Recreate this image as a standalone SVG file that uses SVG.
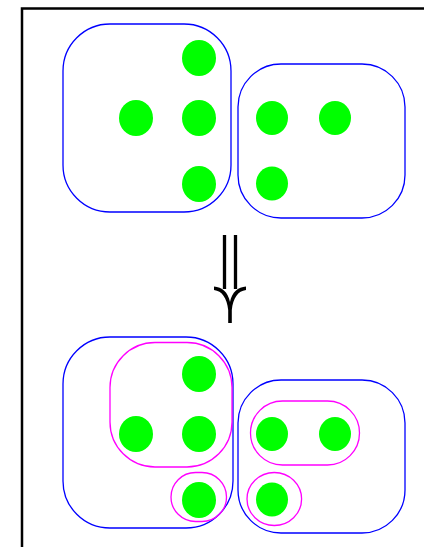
<svg xmlns="http://www.w3.org/2000/svg" width="424" height="547" viewBox="0 0 424 547">
<style>
.blue{fill:none;stroke:#0000ff;stroke-width:1.3}
.mag{fill:none;stroke:#ff00ff;stroke-width:1.3}
.dot{fill:#00ff00;stroke:none}
</style>
<rect width="424" height="547" fill="#fff"/>
<rect id="frame" x="22" y="8.5" width="420" height="560" fill="none" stroke="#000" stroke-width="2.5"/>
<g id="top">
<g id="topLeftGroup"><rect class="blue" x="63" y="24" width="168" height="188" rx="47" ry="47"/></g>
<g id="topRightGroup"><rect class="blue" x="238" y="64" width="167" height="154" rx="43" ry="43"/></g>
<g id="tdot1"><ellipse class="dot" cx="199" cy="58" rx="17" ry="18"/></g>
<g id="tdot2"><ellipse class="dot" cx="136" cy="118" rx="17" ry="18"/></g>
<g id="tdot3"><ellipse class="dot" cx="199" cy="118" rx="17" ry="18"/></g>
<g id="tdot4"><ellipse class="dot" cx="199" cy="184" rx="17" ry="18"/></g>
<g id="tdot5"><ellipse class="dot" cx="272" cy="118" rx="16" ry="17"/></g>
<g id="tdot6"><ellipse class="dot" cx="335" cy="118" rx="16" ry="17"/></g>
<g id="tdot7"><ellipse class="dot" cx="272" cy="183.5" rx="16" ry="17"/></g>
</g>
<g id="connectors">
<path d="M224.5 235 V289 M235.5 235 V289" stroke="#000" stroke-width="3.3" fill="none"/>
<path d="M214 286.5 C222 287 228 292 230 302 C232 292 238 287 246 286.5 L246 290 C238 291 233 298 231.8 310 L231.8 323 L228.2 323 L228.2 310 C227 298 222 291 214 290 Z" fill="#000"/>
</g>
<g id="bottom">
<g id="botLeftGroup"><rect class="blue" x="63" y="337" width="170" height="191" rx="47" ry="47"/></g>
<g id="botRightGroup"><rect class="blue" x="238" y="380" width="167" height="153" rx="43" ry="43"/></g>
<g id="subA"><rect class="mag" x="110" y="342.5" width="122" height="124.5" rx="45" ry="45"/></g>
<g id="subB"><rect class="mag" x="171" y="472.5" width="55.5" height="49" rx="24.5" ry="24.5"/></g>
<g id="subC"><rect class="mag" x="250.5" y="401" width="109" height="64" rx="32" ry="32"/></g>
<g id="subD"><ellipse class="mag" cx="274.3" cy="499" rx="27.3" ry="26.5"/></g>
<g id="bdot1"><ellipse class="dot" cx="199" cy="374" rx="17" ry="18"/></g>
<g id="bdot2"><ellipse class="dot" cx="136" cy="434" rx="17" ry="18"/></g>
<g id="bdot3"><ellipse class="dot" cx="199" cy="434" rx="17" ry="18"/></g>
<g id="bdot4"><ellipse class="dot" cx="199" cy="500" rx="17" ry="18"/></g>
<g id="bdot5"><ellipse class="dot" cx="272" cy="434" rx="16" ry="17"/></g>
<g id="bdot6"><ellipse class="dot" cx="335" cy="434" rx="16" ry="17"/></g>
<g id="bdot7"><ellipse class="dot" cx="272" cy="499.5" rx="16" ry="17"/></g>
</g>
</svg>
